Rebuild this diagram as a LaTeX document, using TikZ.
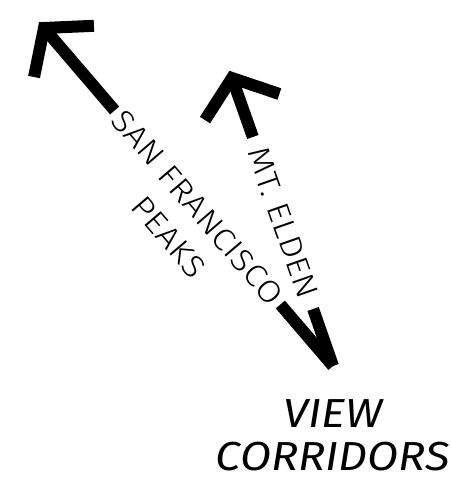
\documentclass[tikz,border=0pt]{standalone}
\usepackage{fontspec}
\usepackage{tikz}
\usetikzlibrary{calc}
\setmainfont{Fira Sans}[FakeStretch=1.12]
\newfontfamily\thinsans{Fira Sans Light}[FakeStretch=1.12,LetterSpace=1]
\newcommand{\vhead}[2]{\draw[corridor,line join=miter] ($(#1)!50pt!52:(#2)$)--(#1)--($(#1)!50pt!-52:(#2)$);}

\begin{document}
\begin{tikzpicture}[x=1pt,y=-1pt,corridor/.style={line width=12pt},lbl/.style={font=\thinsans\fontsize{31}{36}\selectfont,inner ysep=0pt}]
\useasboundingbox (0,0) rectangle (450,482);
\coordinate (vp) at (333,366); \coordinate (sftip) at (44,28); \coordinate (eldtip) at (232,78);
\node[lbl,rotate=-49.5,inner xsep=5pt] (sanfran) at (197.5,207.5) {SAN FRANCISCO};
\node[lbl,rotate=-49.5] (peaks) at (169,237) {PEAKS};
\node[lbl,rotate=-70.7,inner xsep=12pt] (elden) at (283,223) {MT.\ ELDEN};
\draw[corridor] (vp) -- (sanfran.east); \draw[corridor] (sanfran.west) -- (sftip); \vhead{sftip}{vp}
\draw[corridor] (vp) -- (elden.east); \draw[corridor] (elden.west) -- (eldtip); \vhead{eldtip}{vp}
\node[font=\itshape\fontsize{40.5}{43}\selectfont,align=center,inner sep=0pt] (title) at (333,435) {VIEW\\CORRIDORS};
\end{tikzpicture}
\end{document}
